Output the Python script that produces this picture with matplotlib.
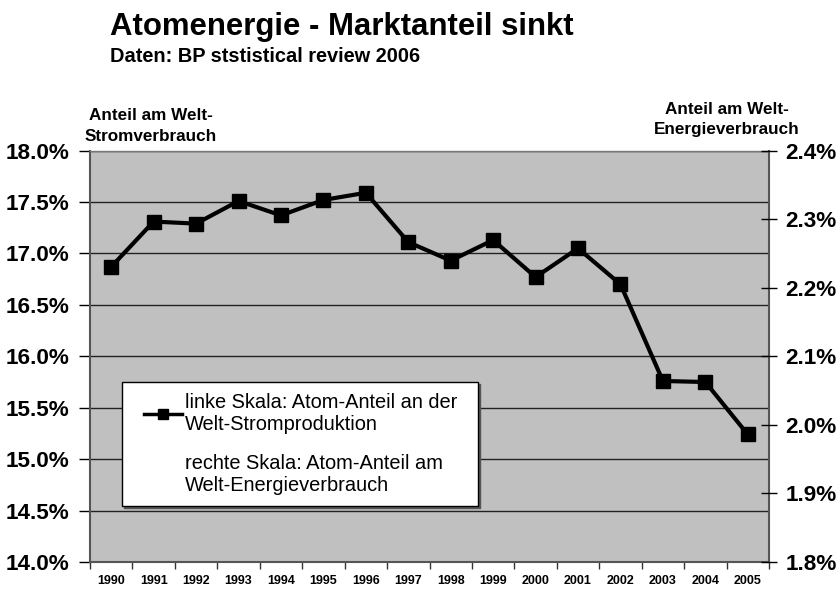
import matplotlib
matplotlib.use("Agg")
import matplotlib.pyplot as plt
from matplotlib.lines import Line2D
from matplotlib.legend_handler import HandlerLine2D
from matplotlib.ticker import FixedLocator, FuncFormatter

plt.rcParams['font.family'] = ['Liberation Sans', 'DejaVu Sans']

years = ['1990', '1991', '1992', '1993', '1994', '1995', '1996', '1997',
         '1998', '1999', '2000', '2001', '2002', '2003', '2004', '2005']
nuclear_power_share = [16.87, 17.31, 17.29, 17.51, 17.37, 17.52, 17.59, 17.11,
                       16.93, 17.13, 16.77, 17.05, 16.70, 15.76, 15.75, 15.24]
left_ticks = [14.0, 14.5, 15.0, 15.5, 16.0, 16.5, 17.0, 17.5, 18.0]
right_ticks = [1.8, 1.9, 2.0, 2.1, 2.2, 2.3, 2.4]

title = "Atomenergie - Marktanteil sinkt"
subtitle = "Daten: BP ststistical review 2006"
left_label = "Anteil am Welt-\nStromverbrauch"
right_label = "Anteil am Welt-\nEnergieverbrauch"
legend_labels = ["linke Skala: Atom-Anteil an der\nWelt-Stromproduktion",
                 "rechte Skala: Atom-Anteil am\nWelt-Energieverbrauch"]


class ShiftedLineHandler(HandlerLine2D):
    def __init__(self, shift, **kw):
        super().__init__(**kw)
        self.shift = shift

    def create_artists(self, legend, orig_handle, xdescent, ydescent, width,
                       height, fontsize, trans):
        s = self.shift * fontsize
        return super().create_artists(legend, orig_handle, xdescent - s, ydescent,
                                      width - s, height, fontsize, trans)


W, H = 839, 589
fig = plt.figure(figsize=(W / 100, H / 100), dpi=100)
L, R, T, B = 90, 769, 150.6, 562
ax = fig.add_axes([L / W, 1 - B / H, (R - L) / W, (B - T) / H])
ax.set_facecolor('#C0C0C0')

x = list(range(len(years)))
ax.plot(x, nuclear_power_share, color='black', lw=3.0, marker='s',
        markersize=10, markeredgecolor='black', markerfacecolor='black',
        zorder=5, solid_joinstyle='miter')

ax.set_xlim(-0.5, len(years) - 0.5)
ax.set_ylim(14.0, 18.0)
ax.yaxis.set_major_locator(FixedLocator(left_ticks))
ax.yaxis.set_major_formatter(FuncFormatter(lambda v, p: f"{v:.1f}%"))
ax.grid(axis='y', color='#222222', lw=1.0)
ax.set_axisbelow(True)

ax.set_xticks(x)
ax.set_xticklabels(years, fontsize=9, fontweight='bold')
ax.set_xticks([i - 0.5 for i in range(len(years) + 1)], minor=True)
ax.tick_params(axis='x', which='major', length=0, pad=9)
ax.tick_params(axis='x', which='minor', length=5, width=1, color='#333333', direction='out')
ax.tick_params(axis='y', which='major', length=8, width=1, direction='out',
               labelsize=16.2, pad=6.5)
for lab in ax.get_yticklabels():
    lab.set_fontweight('bold')

for s in ['left', 'right', 'bottom']:
    ax.spines[s].set_color('#555555')
    ax.spines[s].set_linewidth(1.5)
ax.spines['top'].set_color('#777777')
ax.spines['top'].set_linewidth(1.0)

ax2 = ax.twinx()
ax2.set_ylim(1.8, 2.4)
ax2.yaxis.set_major_locator(FixedLocator(right_ticks))
ax2.yaxis.set_major_formatter(FuncFormatter(lambda v, p: f"{v:.1f}%"))
ax2.tick_params(axis='y', length=12, width=1, direction='inout',
                labelsize=16.2, pad=6)
for lab in ax2.get_yticklabels():
    lab.set_fontweight('bold')
for s in ax2.spines.values():
    s.set_visible(False)

fig.text(110 / W, 1 - 35 / H, title, fontsize=22.4, fontweight='bold',
         ha='left', va='baseline')
fig.text(110 / W, 1 - 62.5 / H, subtitle, fontsize=14.4, fontweight='bold',
         ha='left', va='baseline')
fig.text(151 / W, 1 - 141 / H, left_label, fontsize=12.3, fontweight='bold',
         ha='center', va='baseline', multialignment='center', linespacing=1.5)
fig.text(727 / W, 1 - 134 / H, right_label, fontsize=12.3, fontweight='bold',
         ha='center', va='baseline', multialignment='center', linespacing=1.45)

line_handle = Line2D([], [], color='black', lw=2.5, marker='s', markersize=7)
blank_handle = Line2D([], [], color='none', lw=0)
bx0, bx1, by0, by1 = 122, 478, 382, 506
leg = ax.legend([line_handle, blank_handle], legend_labels, loc='upper left',
                bbox_to_anchor=(bx0 / W, 1 - by1 / H, (bx1 - bx0) / W, (by1 - by0) / H),
                bbox_transform=fig.transFigure, mode='expand',
                borderaxespad=0, fancybox=False,
                shadow={'color': '#555555', 'alpha': 1, 'ox': 1.5, 'oy': -1.5},
                framealpha=1, edgecolor='black', facecolor='white',
                prop={'size': 14.4}, borderpad=0.55, handlelength=2.45,
                handletextpad=0.15, labelspacing=1.0,
                handler_map={line_handle: ShiftedLineHandler(0.55)})
leg.get_frame().set_linewidth(1.0)
leg.set_zorder(10)

fig.savefig('out.png', dpi=100)
